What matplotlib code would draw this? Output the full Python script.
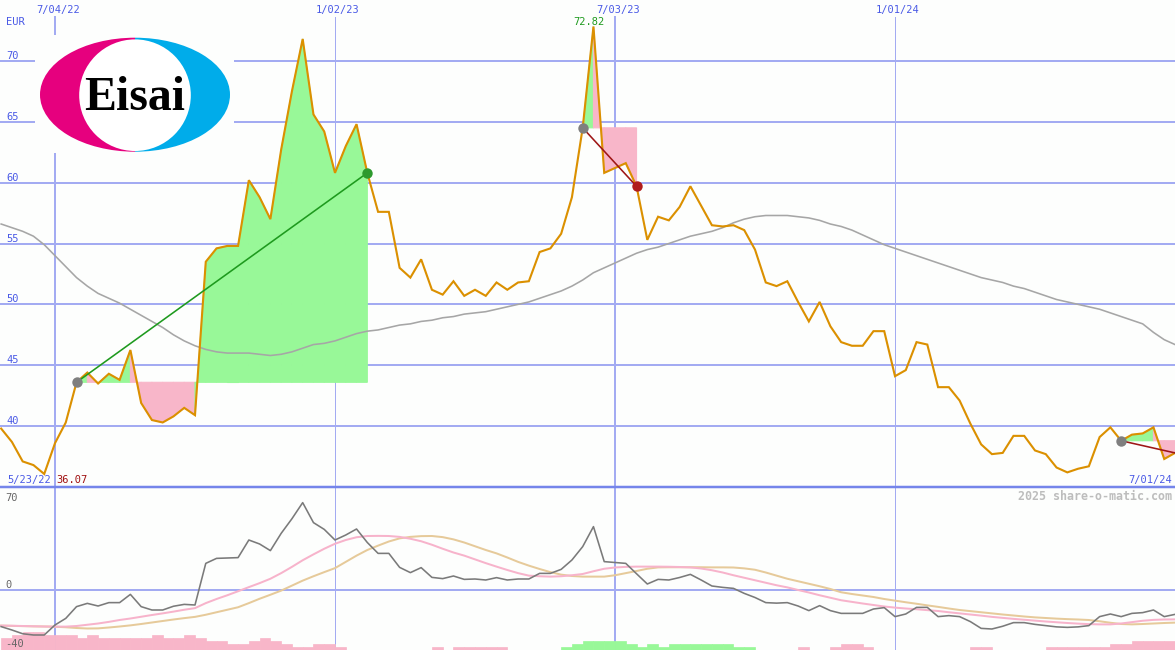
import matplotlib
matplotlib.use('Agg')
import matplotlib.pyplot as plt
import matplotlib.dates as mdates
from matplotlib.patches import Ellipse, Circle, Rectangle
from matplotlib.lines import Line2D
import numpy as np
import pandas as pd

# ---------------- data ----------------
first_week = '2022-05-30'
n_weeks = 110
axis_start = '2022-05-23'
axis_end = '2024-07-01'

price = [39.8, 38.7, 37.1, 36.8, 36.07, 38.6, 40.3, 43.6, 44.4, 43.5,
         44.3, 43.8, 46.25, 41.9, 40.5, 40.3, 40.8, 41.5, 40.9, 53.5,
         54.6, 54.8, 54.8, 60.2, 58.8, 57.0, 62.7, 67.5, 71.8, 65.6,
         64.2, 60.8, 63.0, 64.8, 60.8, 57.6, 57.6, 53.0, 52.2, 53.7,
         51.2, 50.8, 51.9, 50.7, 51.2, 50.7, 51.8, 51.2, 51.8, 51.9,
         54.3, 54.6, 55.8, 58.8, 64.5, 72.82, 60.8, 61.2, 61.6, 59.7,
         55.3, 57.2, 56.9, 58.0, 59.7, 58.1, 56.5, 56.4, 56.5, 56.1,
         54.5, 51.8, 51.5, 51.9, 50.2, 48.6, 50.2, 48.2, 46.9, 46.6,
         46.6, 47.8, 47.8, 44.1, 44.6, 46.9, 46.7, 43.2, 43.2, 42.1,
         40.2, 38.5, 37.7, 37.8, 39.2, 39.2, 38.0, 37.7, 36.6, 36.2,
         36.5, 36.7, 39.1, 39.9, 38.8, 39.3, 39.4, 39.9, 37.3, 37.8]

ma_long = [56.6, 56.3, 56.0, 55.6, 54.9, 54.0, 53.1, 52.2, 51.5, 50.9,
           50.5, 50.1, 49.6, 49.1, 48.6, 48.1, 47.5, 47.0, 46.6, 46.3,
           46.1, 46.0, 46.0, 46.0, 45.9, 45.8, 45.9, 46.1, 46.4, 46.7,
           46.8, 47.0, 47.3, 47.6, 47.8, 47.9, 48.1, 48.3, 48.4, 48.6,
           48.7, 48.9, 49.0, 49.2, 49.3, 49.4, 49.6, 49.8, 50.0, 50.2,
           50.5, 50.8, 51.1, 51.5, 52.0, 52.6, 53.0, 53.4, 53.8, 54.2,
           54.5, 54.7, 55.0, 55.3, 55.6, 55.8, 56.0, 56.3, 56.7, 57.0,
           57.2, 57.3, 57.3, 57.3, 57.2, 57.1, 56.9, 56.6, 56.4, 56.1,
           55.7, 55.3, 54.9, 54.6, 54.3, 54.0, 53.7, 53.4, 53.1, 52.8,
           52.5, 52.2, 52.0, 51.8, 51.5, 51.3, 51.0, 50.7, 50.4, 50.2,
           50.0, 49.8, 49.6, 49.3, 49.0, 48.7, 48.4, 47.7, 47.1, 46.7]

osc = [-29.3, -32.0, -35.0, -36.0, -36.0, -28.0, -22.7, -13.3, -10.7, -12.8,
       -10.1, -10.1, -3.5, -13.3, -16.0, -16.0, -13.0, -11.5, -12.0, 21.3,
       25.3, 25.6, 25.9, 40.0, 36.8, 31.5, 45.3, 57.0, 69.9, 53.9,
       48.5, 40.0, 44.0, 48.8, 38.0, 29.3, 29.3, 18.1, 13.9, 17.9,
       10.1, 9.1, 11.2, 8.5, 8.8, 8.0, 9.9, 8.0, 8.8, 8.8,
       13.3, 13.3, 16.5, 24.0, 34.7, 50.7, 22.7, 22.0, 21.3, 13.0,
       4.8, 8.5, 8.0, 10.0, 12.5, 8.0, 3.2, 2.1, 1.3, -2.7,
       -6.0, -10.1, -10.5, -10.1, -12.8, -16.5, -12.5, -16.5, -18.7, -18.7,
       -18.7, -15.2, -14.1, -21.3, -19.2, -13.9, -13.9, -21.3, -20.5, -21.3,
       -25.3, -30.7, -31.2, -29.0, -26.1, -26.1, -27.5, -28.5, -29.5, -29.9,
       -29.5, -28.5, -21.3, -19.2, -21.3, -18.7, -18.1, -16.0, -21.3, -19.5]

osc_fast = [-28.5, -28.6, -28.8, -29.0, -29.2, -29.3, -29.3, -28.8, -27.8, -26.8,
            -25.5, -24.0, -22.8, -21.4, -20.0, -18.7, -17.3, -15.8, -14.5, -10.5,
            -7.2, -4.2, -1.0, 2.3, 5.5, 9.0, 13.5, 18.5, 23.8, 28.5,
            33.0, 37.0, 40.0, 42.2, 43.2, 43.3, 43.2, 42.5, 41.0, 39.0,
            36.2, 33.0, 30.0, 27.5, 24.5, 21.5, 18.7, 16.0, 13.5, 11.5,
            11.0, 10.7, 11.0, 11.8, 12.8, 15.0, 17.0, 18.0, 18.5, 18.7,
            18.7, 18.7, 18.6, 18.4, 18.1, 17.2, 15.8, 14.0, 11.8, 9.8,
            7.8, 5.8, 3.8, 2.1, 0.0, -2.0, -4.2, -6.2, -8.2, -9.5,
            -10.8, -12.0, -13.2, -14.1, -14.8, -15.4, -16.1, -16.8, -17.8, -18.7,
            -19.6, -20.5, -21.5, -22.3, -23.1, -23.8, -24.5, -25.2, -25.8, -26.4,
            -26.9, -27.3, -27.5, -27.5, -26.8, -25.7, -24.6, -23.9, -23.6, -23.5]

osc_slow = [-28.5, -28.7, -28.9, -29.1, -29.2, -29.4, -29.8, -30.4, -30.8, -30.7,
            -30.0, -29.2, -28.3, -27.2, -26.0, -24.8, -23.6, -22.5, -21.5, -19.8,
            -17.8, -15.8, -13.8, -10.5, -7.0, -3.8, -0.5, 3.5, 7.5, 11.0,
            14.3, 17.5, 22.5, 27.5, 32.0, 35.5, 38.8, 41.3, 42.5, 43.1,
            43.2, 42.3, 40.5, 38.0, 35.0, 32.0, 29.3, 26.0, 22.5, 19.5,
            16.8, 14.3, 12.3, 11.2, 10.7, 10.7, 10.7, 11.8, 13.5, 15.2,
            17.0, 18.1, 18.2, 18.2, 18.2, 18.2, 18.1, 18.1, 18.0, 17.3,
            16.2, 14.0, 11.5, 9.0, 7.0, 5.0, 3.0, 0.8, -1.8, -3.2,
            -4.4, -5.6, -7.2, -8.5, -9.8, -11.0, -12.3, -13.5, -14.8, -16.0,
            -16.9, -17.8, -18.7, -19.6, -20.4, -21.2, -21.9, -22.4, -22.9, -23.3,
            -23.6, -24.0, -25.0, -26.2, -27.2, -27.5, -27.2, -26.8, -26.4, -26.1]

hist = [-9.4, -12, -14.6, -14.6, -12, -12, -12, -9.4, -12, -9.4,
        -9.4, -9.4, -9.4, -9.4, -12, -9.4, -9.4, -12, -9.4, -7.2,
        -7.2, -4.8, -4.8, -7.2, -9.4, -7.2, -4.8, -2.4, -2.4, -4.8,
        -4.8, -2.4, 0, 0, 0, 0, 0, 0, 0, 0,
        -2.4, 0, -2.4, -2.4, -2.4, -2.4, -2.4, 0, 0, 0,
        0, 0, 2.4, 4.8, 7.2, 7.2, 7.2, 7.2, 4.8, 2.4,
        4.8, 2.4, 4.8, 4.8, 4.8, 4.8, 4.8, 4.8, 2.4, 2.4,
        0, 0, 0, 0, -2.4, 0, 0, -2.4, -4.8, -4.8,
        -2.4, 0, 0, 0, 0, 0, 0, 0, 0, 0,
        -2.4, -2.4, 0, 0, 0, 0, 0, -2.4, -2.4, -2.4,
        -2.4, -2.4, -2.4, -4.8, -4.8, -7.2, -7.2, -7.2, -7.2, 0]

# trades: (entry date, exit date or None, result)
trades = [('2022-07-18', '2023-01-23', 'win'),
          ('2023-06-12', '2023-07-17', 'loss'),
          ('2024-05-27', None, 'open')]

grid_dates = ['2022-07-04', '2023-01-02', '2023-07-03', '2024-01-01']
grid_labels = ['7/04/22', '1/02/23', '7/03/23', '1/01/24']
grid_widths_px = [2, 1, 2, 1]
price_ticks = [40, 45, 50, 55, 60, 65, 70]
osc_ticks = [('70', 70), ('0', 0), ('-40', -40)]
start_label = '5/23/22'
end_label = '7/01/24'
currency = 'EUR'
watermark = '2025 share-o-matic.com'
company = 'Eisai'

# ---------------- styles ----------------
BG = '#FDFEFD'
GRID = '#A3ABF2'
SEP = '#7585EA'
BLUE_TXT = '#4A5AE6'
ORANGE = '#DB9000'
MA_GRAY = '#A6A6A6'
GREEN_FILL = '#98F898'
PINK_FILL = '#F8B6C9'
PX = 0.72  # points per pixel at dpi 100
MONO = 'DejaVu Sans Mono'

dates = pd.date_range(first_week, periods=n_weeks, freq='7D')
x = mdates.date2num(dates)
price_a = np.array(price)
week = 7.0
x_left = mdates.date2num(pd.Timestamp(axis_start)) + 0.893 * week
x_right = mdates.date2num(pd.Timestamp(axis_end))

fig = plt.figure(figsize=(11.75, 6.5), dpi=100, facecolor=BG)
H = 650.0
main_bottom = 163 / H
ax = fig.add_axes([0, main_bottom, 1, 1 - main_bottom])
ax2 = fig.add_axes([0, 0, 1, main_bottom])
for a in (ax, ax2):
    a.set_facecolor(BG)
    for s in a.spines.values():
        s.set_visible(False)
    a.set_xticks([])
    a.set_yticks([])
    a.set_xlim(x_left, x_right)

ax.set_ylim(35, 75)
ax2.set_ylim(-48, 82.4)

# grid lines
for v in price_ticks:
    ax.axhline(v, color=GRID, lw=2 * PX, zorder=1)
ax2.axhline(0, color=GRID, lw=2 * PX, zorder=1)
for d, w in zip(grid_dates, grid_widths_px):
    xd = mdates.date2num(pd.Timestamp(d))
    ax.axvline(xd, ymin=0, ymax=(487 - 17) / 487, color=GRID, lw=w * PX, zorder=1)
    ax2.axvline(xd, color=GRID, lw=w * PX, zorder=1)
fig.add_artist(Line2D([0, 1], [main_bottom, main_bottom], transform=fig.transFigure,
                      color=SEP, lw=2.5 * PX, zorder=5))

# trade fills, lines and dots
date_index = {d: i for i, d in enumerate(dates)}
for entry_d, exit_d, result in trades:
    ei = date_index[pd.Timestamp(entry_d)]
    xi = date_index[pd.Timestamp(exit_d)] if exit_d else n_weeks - 1
    entry = price_a[ei]
    for i in range(ei, xi):
        col = GREEN_FILL if price_a[i + 1] >= entry else PINK_FILL
        ax.fill([x[i], x[i], x[i + 1], x[i + 1]],
                [entry, price_a[i], price_a[i + 1], entry],
                facecolor=col, edgecolor=col, lw=0.8, zorder=2)
    lcol = '#1E9A1E' if price_a[xi] >= entry else '#9E1616'
    ax.plot([x[ei], x[xi]], [entry, price_a[xi]], color=lcol, lw=1.6 * PX, zorder=6)
    ax.plot(x[ei], entry, 'o', color='#7F7F7F', ms=7.5, mec='none', zorder=7)
    if exit_d:
        dcol = '#2E9A2E' if result == 'win' else '#B01C1C'
        ax.plot(x[xi], price_a[xi], 'o', color=dcol, ms=7.5, mec='none', zorder=7)

ax.plot(x, ma_long, color=MA_GRAY, lw=1.6 * PX, zorder=3)
ax.plot(x, price, color=ORANGE, lw=2.1 * PX, zorder=5, solid_joinstyle='miter')

# lower panel
hist_a = np.array(hist)
mask = hist_a != 0
ax2.bar(x[mask], np.abs(hist_a[mask]), bottom=-48, width=week, align='edge',
        color=[GREEN_FILL if h > 0 else PINK_FILL for h in hist_a[mask]],
        edgecolor=[GREEN_FILL if h > 0 else PINK_FILL for h in hist_a[mask]],
        lw=0.5, zorder=2)
ax2.plot(x, osc_slow, color='#E6CA9A', lw=2 * PX, zorder=3)
ax2.plot(x, osc_fast, color='#F7B3CB', lw=2 * PX, zorder=4)
ax2.plot(x, osc, color='#7A7A7A', lw=1.6 * PX, zorder=5)

# ---------------- texts ----------------
def note(a, s, xy, xycoords, dx, dy, **kw):
    kw.setdefault('family', MONO)
    kw.setdefault('fontsize', 7.5)
    kw.setdefault('va', 'baseline')
    a.annotate(s, xy=xy, xycoords=xycoords, xytext=(dx * PX, dy * PX),
               textcoords='offset points', annotation_clip=False, zorder=10, **kw)

for v in price_ticks:
    note(ax, str(v), (0, v), ('axes fraction', 'data'), 6, 2, color=BLUE_TXT, ha='left')
note(ax, currency, (0, 1), 'axes fraction', 6, -25, color=BLUE_TXT, ha='left')
for d, lab in zip(grid_dates, grid_labels):
    note(ax, lab, (mdates.date2num(pd.Timestamp(d)), 1), ('data', 'axes fraction'), 3, -12.5,
         color=BLUE_TXT, ha='center')

imax = int(np.argmax(price_a))
imin = int(np.argmin(price_a))
note(ax, f'{price_a[imax]:.2f}', (x[imax], 1), ('data', 'axes fraction'), -5, -25,
     color='#1E9A1E', ha='center')
note(ax, start_label, (0, 0), 'axes fraction', 7, 4, color=BLUE_TXT, ha='left')
note(ax, f'{price_a[imin]:.2f}', (0, 0), 'axes fraction', 56, 4, color='#A01010', ha='left')
note(ax, end_label, (1, 0), 'axes fraction', -3, 4, color=BLUE_TXT, ha='right')
note(ax2, watermark, (1, 1), 'axes fraction', -3, -13, color='#BDBDBD', ha='right',
     fontsize=8.4, fontweight='bold')
note(ax2, osc_ticks[0][0], (0, 1), 'axes fraction', 5, -14, color='#666666', ha='left')
note(ax2, osc_ticks[1][0], (0, osc_ticks[1][1]), ('axes fraction', 'data'), 5, 2,
     color='#666666', ha='left')
note(ax2, osc_ticks[2][0], (0, 0), 'axes fraction', 5, 3, color='#666666', ha='left')

# ---------------- logo ----------------
lx0, ly0, lw_, lh_ = 35, 35, 199, 118
lax = fig.add_axes([lx0 / 1175, (650 - ly0 - lh_) / 650, lw_ / 1175, lh_ / 650])
lax.set_xlim(lx0, lx0 + lw_)
lax.set_ylim(ly0 + lh_, ly0)
lax.axis('off')
lax.add_patch(Rectangle((lx0, ly0), lw_, lh_, color=BG, lw=0))
cx, cy = 135, 94.7
left = Ellipse((cx, cy), 190, 114, color='#E6007E', lw=0)
right = Ellipse((cx, cy), 190, 114, color='#00ACEA', lw=0)
lax.add_patch(left)
lax.add_patch(right)
left.set_clip_path(Rectangle((lx0, ly0), cx - lx0, lh_, transform=lax.transData))
right.set_clip_path(Rectangle((cx, ly0), lx0 + lw_ - cx, lh_, transform=lax.transData))
lax.add_patch(Circle((cx, 95.2), 55.8, color='white', lw=0))
lax.text(cx, 110, company, family='Liberation Serif', fontweight='bold', fontsize=34.5,
         ha='center', va='baseline', color='black')

fig.savefig('out.png', dpi=100, facecolor=BG)
